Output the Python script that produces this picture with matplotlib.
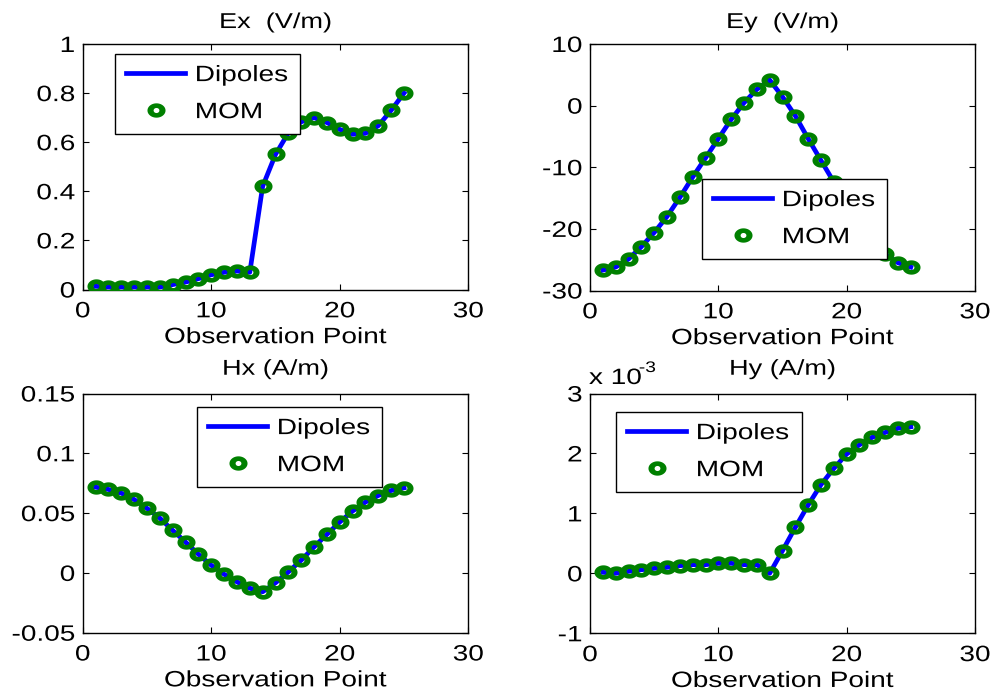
import numpy as np
import matplotlib
matplotlib.use("Agg")
import matplotlib.pyplot as plt
from matplotlib.path import Path
from matplotlib.patheffects import AbstractPathEffect
from matplotlib.transforms import Affine2D

plt.rcParams['font.family'] = ['Liberation Sans', 'DejaVu Sans']
plt.rcParams['axes.unicode_minus'] = False

# observation point index
points = np.arange(1, 26)

# field components along the observation line
ex = [0.013, 0.010, 0.010, 0.010, 0.010, 0.010, 0.020, 0.030, 0.044, 0.060,
      0.070, 0.075, 0.070, 0.420, 0.550, 0.638, 0.683, 0.700, 0.680, 0.652,
      0.632, 0.636, 0.667, 0.730, 0.800]
ey = [-26.7, -26.2, -24.9, -22.9, -20.6, -18.0, -14.9, -11.6, -8.5, -5.36,
      -2.25, 0.46, 2.64, 4.16, 1.44, -1.66, -5.36, -8.9, -12.4, -15.6,
      -18.6, -21.3, -24.1, -25.5, -26.2]
hx = [0.0717, 0.0698, 0.0667, 0.0614, 0.0540, 0.0458, 0.0356, 0.0258, 0.0156, 0.0064,
      -0.0011, -0.0075, -0.0128, -0.0158, -0.0083, 0.0008, 0.0106, 0.0217, 0.0322, 0.0425,
      0.0517, 0.0592, 0.0647, 0.0689, 0.0711]
# Hy in units of 1e-3 A/m
hy_milli = [0.017, 0.000, 0.033, 0.060, 0.083, 0.100, 0.128, 0.145, 0.145, 0.167,
            0.167, 0.145, 0.145, 0.000, 0.378, 0.767, 1.140, 1.480, 1.750, 1.990,
            2.145, 2.270, 2.350, 2.420, 2.445]

titles = ['Ex  (V/m)', 'Ey  (V/m)', 'Hx (A/m)', 'Hy (A/m)']
series = [ex, ey, hx, hy_milli]
yticks = [[0, 0.2, 0.4, 0.6, 0.8, 1],
          [-30, -20, -10, 0, 10],
          [-0.05, 0, 0.05, 0.1, 0.15],
          [-1, 0, 1, 2, 3]]
yticklabels = [['0', '0.2', '0.4', '0.6', '0.8', '1'],
               ['-30', '-20', '-10', '0', '10'],
               ['-0.05', '0', '0.05', '0.1', '0.15'],
               ['-1', '0', '1', '2', '3']]
xticks = [0, 10, 20, 30]

SX = 1.26  # horizontal widening of the lettering


class StretchX(AbstractPathEffect):
    """Draw text widened horizontally about a chosen anchor (0 left, 0.5 centre, 1 right)."""

    def __init__(self, sx=SX, anchor=0.5):
        super().__init__()
        self.sx = sx
        self.anchor = anchor

    def draw_path(self, renderer, gc, tpath, affine, rgbFace=None):
        ext = tpath.get_extents()
        a = ext.x0 + self.anchor * ext.width
        t = Affine2D().translate(-a, 0).scale(self.sx, 1).translate(a, 0)
        renderer.draw_path(gc, tpath, t + affine, rgbFace)


def ring_marker(rx_out=1.0, ry_out=0.794, rx_in=0.32, ry_in=0.28, n=64):
    th = np.linspace(0, 2 * np.pi, n + 1)
    outer = np.column_stack([rx_out * np.cos(th), ry_out * np.sin(th)])
    inner = np.column_stack([rx_in * np.cos(th), ry_in * np.sin(th)])[::-1]
    verts = np.vstack([outer, inner])
    codes = ([Path.MOVETO] + [Path.LINETO] * (n - 1) + [Path.CLOSEPOLY]) * 2
    return Path(verts, codes)


RING = ring_marker()

W, H = 994, 694
fig = plt.figure(figsize=(W / 100, H / 100), dpi=100)

# axes boxes in pixels: left, right, top, bottom
boxes = [(82.7, 468.3, 44.0, 289.5),
         (590.0, 975.0, 44.0, 290.5),
         (82.7, 468.3, 393.5, 632.7),
         (590.0, 975.0, 393.5, 633.3)]
title_pads = [11.5, 11.5, 13.5, 13.5]
# legend frames in pixels: left, top, width
legend_frames = [(115, 54, 185), (702, 179, 185), (197, 407, 185), (616, 412, 186)]

axes = []
for i in range(4):
    l, r, t, b = boxes[i]
    ax = fig.add_axes([l / W, 1 - b / H, (r - l) / W, (b - t) / H])
    axes.append(ax)
    ax.plot(points, series[i], color='#0000ff', lw=3.4, label='Dipoles', zorder=2)
    ax.plot(points, series[i], ls='none', marker=RING, ms=13.0, mew=0,
            mfc='#008000', mec='#008000', label='MOM', zorder=3)
    ax.set_xlim(0, 30)
    ax.set_ylim(yticks[i][0], yticks[i][-1])
    ax.set_xticks(xticks)
    ax.set_xticklabels([str(v) for v in xticks])
    ax.set_yticks(yticks[i])
    ax.set_yticklabels(yticklabels[i])
    ax.tick_params(direction='in', length=4, width=0.8, labelsize=16,
                   top=True, right=True, colors='black')
    ax.tick_params(axis='x', pad=8.5)
    ax.tick_params(axis='y', pad=5.5)
    for sp in ax.spines.values():
        sp.set_linewidth(1.0)
    ttl = ax.set_title(titles[i], fontsize=15.5, pad=title_pads[i])
    ttl.set_path_effects([StretchX(anchor=0.5)])
    xl = ax.set_xlabel('Observation Point', fontsize=16, labelpad=3.5)
    xl.set_path_effects([StretchX(anchor=0.5)])
    lx, ly, lw = legend_frames[i]
    leg = ax.legend(loc='upper left', bbox_to_anchor=(lx / W, 1 - ly / H, lw / W, 0),
                    bbox_transform=fig.transFigure, borderaxespad=0, mode='expand',
                    fontsize=16, fancybox=False, edgecolor='black',
                    framealpha=1, handlelength=2.66, handletextpad=0.45,
                    borderpad=0.5, labelspacing=0.72)
    leg.get_frame().set_linewidth(1.0)
    for txt in leg.get_texts():
        txt.set_path_effects([StretchX(anchor=0.0)])

# exponent label above the Hy axes
t1 = fig.text(589 / W, 1 - 384 / H, 'x 10', fontsize=16, ha='left', va='baseline')
t2 = fig.text(639 / W, 1 - 372 / H, '-3', fontsize=11, ha='left', va='baseline')
t1.set_path_effects([StretchX(anchor=0.0)])
t2.set_path_effects([StretchX(anchor=0.0)])

fig.canvas.draw()
for ax in axes:
    for lab in ax.get_xticklabels():
        lab.set_path_effects([StretchX(anchor=0.5)])
    for lab in ax.get_yticklabels():
        lab.set_path_effects([StretchX(anchor=1.0)])

fig.savefig('out.png', dpi=100)
